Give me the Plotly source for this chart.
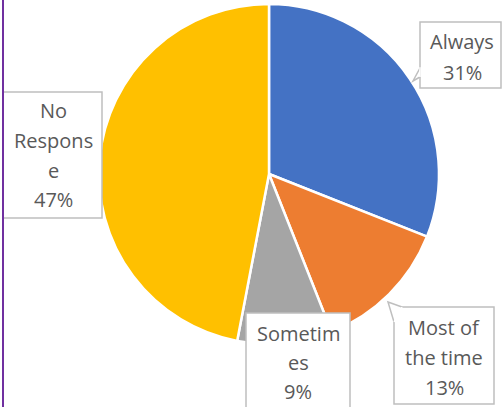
import plotly.graph_objects as go

# ---- data ----
labels = ["Always", "Most of the time", "Sometimes", "No Response"]
values = [31, 13, 9, 47]
colors = ["#4472C4", "#ED7D31", "#A5A5A5", "#FFC000"]
# label text as wrapped in the reference boxes
label_lines = [["Always"], ["Most of", "the time"], ["Sometim", "es"], ["No", "Respons", "e"]]

W, H = 502, 407

def px(x):
    return x / W

def py(y):
    return 1 - y / H

fig = go.Figure()
fig.add_trace(go.Pie(
    labels=labels, values=values, sort=False, direction="clockwise", rotation=0,
    marker=dict(colors=colors, line=dict(color="white", width=2.5)),
    textinfo="none", hoverinfo="label+percent",
    domain=dict(x=[px(99), px(439)], y=[py(344), py(4)]),
    showlegend=False,
))

# label boxes (pixel geometry): left, top, right, bottom, text centre x, first line y, line step
boxes = [
    (420, 22, 501, 88, 462, 41, 31),
    (394, 307, 494, 404, 444, 327, 30),
    (246, 313, 350, 420, 298, 333, 29),
    (3, 92, 102, 218, 53, 111, 29.5),
]
pointers = [
    [(420, 68), (413, 81), (420, 77)],
    [(394, 322), (388, 302), (402, 307)],
]

shapes = []
for (l, t, r, b, *_ ) in boxes:
    shapes.append(dict(type="rect", xref="paper", yref="paper",
                       x0=px(l), x1=px(r), y0=py(b), y1=py(t),
                       fillcolor="white", line=dict(color="#BFBFBF", width=1.5)))
for pts in pointers:
    path = "M " + " L ".join(f"{px(a)},{py(c)}" for a, c in pts)
    shapes.append(dict(type="path", xref="paper", yref="paper", path=path,
                       fillcolor="white", line=dict(color="#BFBFBF", width=1.5)))
    # cover the box edge between the pointer base points
    a0, c0 = pts[0]; a2, c2 = pts[2]
    shapes.append(dict(type="line", xref="paper", yref="paper",
                       x0=px(a0), y0=py(c0 - 0.8 if a0 == a2 else c0),
                       x1=px(a2), y1=py(c2),
                       line=dict(color="white", width=1.5)))
# purple frame line on the left
shapes.append(dict(type="line", xref="paper", yref="paper",
                   x0=px(3), x1=px(3), y0=0, y1=1,
                   line=dict(color="#7030A0", width=2)))

annotations = []
for i, (l, t, r, b, cx, y0, step) in enumerate(boxes):
    lines = label_lines[i] + [f"{values[i]}%"]
    for k, txt in enumerate(lines):
        annotations.append(dict(
            text=txt, xref="paper", yref="paper", x=px(cx), y=py(y0 + k * step),
            xanchor="center", yanchor="middle", showarrow=False,
            font=dict(family="Open Sans", size=20, color="#595959"),
        ))

fig.update_layout(
    width=W, height=H, margin=dict(l=0, r=0, t=0, b=0),
    paper_bgcolor="white", plot_bgcolor="white",
    shapes=shapes, annotations=annotations,
)

fig.write_html("out.html", config={"displayModeBar": False},
               post_script="document.body.style.margin='0';document.body.style.overflow='hidden';")
